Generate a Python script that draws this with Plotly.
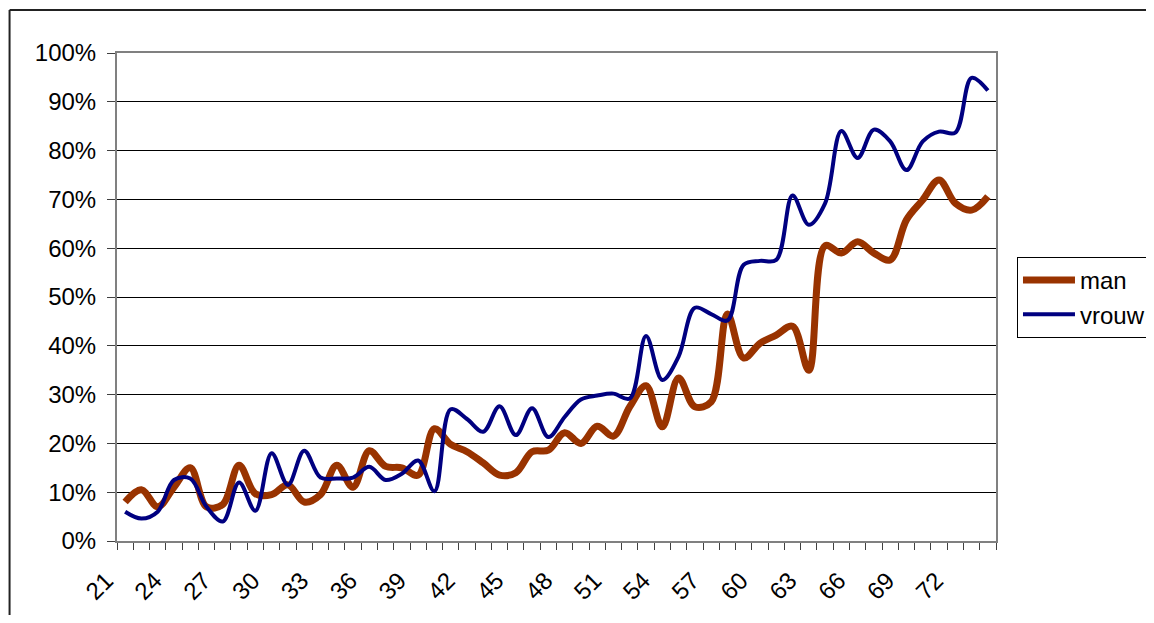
import plotly.graph_objects as go

ages = [21, 22, 23, 24, 25, 26, 27, 28, 29, 30, 31, 32, 33, 34, 35, 36, 37, 38,
        39, 40, 41, 42, 43, 44, 45, 46, 47, 48, 49, 50, 51, 52, 53, 54, 55, 56,
        57, 58, 59, 60, 61, 62, 63, 64, 65, 66, 67, 68, 69, 70, 71, 72, 73, 74]

man = [8, 10.5, 7, 11, 15, 7, 7.5, 15.5, 9.7, 9.5, 11.5, 8, 9.5, 15.5, 11, 18.5,
       15.3, 15, 13.5, 23, 19.8, 18.3, 16, 13.5, 14, 18.3, 18.6, 22.2, 20, 23.5,
       21.5, 27.5, 31.8, 23.4, 33.4, 27.5, 28.5, 46.5, 37.5, 40.5, 42.2, 44, 35,
       60.5, 59, 61.3, 59, 57.6, 65.8, 69.9, 74, 69.2, 67.8, 70.6]

vrouw = [6, 4.6, 6, 12.5, 12.8, 7, 4, 12, 6.2, 18, 11.5, 18.5, 13, 12.8, 13, 15.2,
         12.5, 13.8, 16.5, 10.2, 27, 25, 22.4, 27.6, 21.7, 27.2, 21.3, 25.4, 29,
         29.8, 30.2, 29.2, 42, 33, 37.8, 47.8, 46.5, 45.2, 56.6, 57.4, 57.6, 70.8,
         64.8, 69.2, 84, 78.5, 84.3, 81.9, 76, 81.9, 83.9, 83.7, 94.9, 92.3]

tick_labels = [21, 24, 27, 30, 33, 36, 39, 42, 45, 48, 51, 54, 57, 60, 63, 66, 69, 72]

FONT = "Liberation Sans, Arial, sans-serif"
FS = 24

fig = go.Figure()
fig.add_trace(go.Scatter(x=ages, y=[v / 100 for v in man], name="man", mode="lines",
                         line=dict(color="#993300", width=7, shape="spline", smoothing=1.0)))
fig.add_trace(go.Scatter(x=ages, y=[v / 100 for v in vrouw], name="vrouw", mode="lines",
                         line=dict(color="#000080", width=4, shape="spline", smoothing=1.0)))

# page body has an 8px margin on every side: keep the figure inside the window
OFF = 8
W, H = 1154 - 2 * OFF, 623 - 2 * OFF
L = 116.5 - OFF
T = 53 - OFF
R = W - (996 - OFF)
B = H - (541 - OFF)
pw = W - L - R
ph = H - T - B

def px(xs):
    return (xs - OFF - L) / pw

def py(ys):
    return (H - B - (ys - OFF)) / ph

fig.update_layout(
    width=W, height=H, autosize=False,
    margin=dict(l=L, r=R, t=T, b=B, pad=0, autoexpand=False),
    paper_bgcolor="white", plot_bgcolor="white",
    font=dict(family=FONT, size=FS, color="black"),
    showlegend=True,
    legend=dict(x=px(1017), y=py(257), xanchor="left", yanchor="top",
                bordercolor="black", borderwidth=1, bgcolor="white",
                font=dict(size=FS, family=FONT), itemwidth=52,
                tracegroupgap=0),
    xaxis=dict(range=[20.5, 74.5], tickmode="array", tickvals=tick_labels,
               ticktext=[str(t) for t in tick_labels], tickangle=-45,
               ticks="", showgrid=False, zeroline=False,
               showline=True, linecolor="#808080", linewidth=2, mirror=True,
               tickfont=dict(size=FS, family=FONT),
               ticklabelshift=-19, ticklabelstandoff=14,
               minor=dict(tickmode="linear", tick0=20.5, dtick=1, ticks="outside",
                          ticklen=7, tickcolor="#404040", tickwidth=1, showgrid=False)),
    yaxis=dict(range=[0, 1], dtick=0.1, tick0=0, tickformat=".0%",
               ticks="outside", ticklen=8, tickcolor="#404040",
               showgrid=True, gridcolor="black", gridwidth=1, zeroline=False,
               showline=True, linecolor="#808080", linewidth=2, mirror=True,
               tickfont=dict(size=FS, family=FONT), ticklabelstandoff=6),
)

# outer chart border (cropped at right and bottom)
fig.add_shape(type="line", xref="paper", yref="paper",
              x0=px(9), x1=px(1170), y0=py(10), y1=py(10),
              line=dict(color="#222222", width=2), layer="above")
fig.add_shape(type="line", xref="paper", yref="paper",
              x0=px(9), x1=px(9), y0=py(10), y1=py(640),
              line=dict(color="#222222", width=2), layer="above")

fig.write_html("out.html")
